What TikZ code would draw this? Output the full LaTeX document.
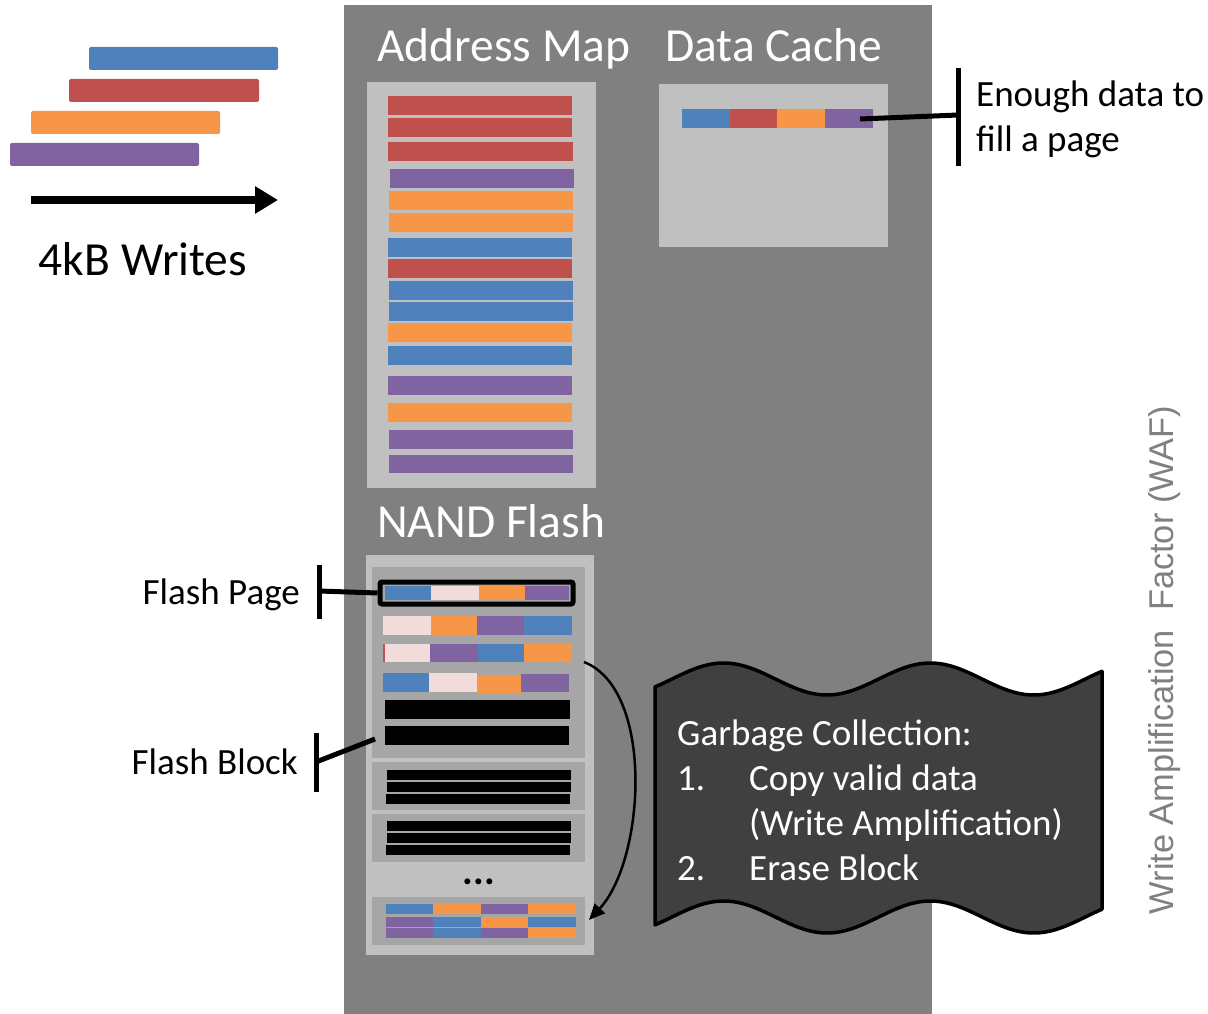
\documentclass[tikz,border=0pt]{standalone}
\usepackage{fontspec}
\setmainfont{Carlito}
\newfontfamily\arialfont{Liberation Sans}
\usetikzlibrary{arrows.meta}
\definecolor{wBlue}{HTML}{4F81BD}
\definecolor{wRed}{HTML}{C0504D}
\definecolor{wOrange}{HTML}{F79646}
\definecolor{wPurple}{HTML}{8064A2}
\definecolor{wPink}{HTML}{F2DCDB}
\definecolor{panelGray}{HTML}{808080}
\definecolor{boxGray}{HTML}{C0C0C0}
\definecolor{blockGray}{HTML}{A6A6A6}
\definecolor{waveGray}{HTML}{404040}
\begin{document}
\begin{tikzpicture}[x=1pt,y=-1pt,
  wbar/.style={rounded corners=2pt},
  leader/.style={line width=5pt},
  body/.style={inner sep=0pt, font=\fontsize{37}{44}\selectfont},
  heading/.style={inner sep=0pt, text=white, anchor=base west, font=\fontsize{47.5}{56}\selectfont},
  gctext/.style={inner sep=0pt, text=white, anchor=base west, font=\fontsize{37}{44}\selectfont}]

\useasboundingbox (0,0) rectangle (1208,1014);
\fill[white] (0,0) rectangle (1208,1014);

% incoming 4kB writes
\fill[wBlue,wbar]   (89,47)  rectangle (278,70);
\fill[wRed,wbar]    (69,79)  rectangle (259,102);
\fill[wOrange,wbar] (31,111) rectangle (220,134);
\fill[wPurple,wbar] (10,143) rectangle (199,166);
\coordinate (wfrom) at (31,200);
\coordinate (wto) at (278,200);
\draw[line width=8pt,-{Triangle[length=23pt,width=26pt]}] (wfrom) -- (wto);
\node[body, anchor=base, font=\fontsize{47.5}{56}\selectfont] (wlabel) at (143,275) {4kB Writes};

% SSD panel
\fill[panelGray] (344,5) rectangle (932,1014);
\node[heading] (amtitle) at (377,62) {Address Map};
\node[heading] (dctitle) at (665,62) {Data Cache};
\node[heading] (nftitle) at (377,537) {NAND Flash};

% address map entries
\fill[boxGray] (367,82) rectangle (596,488);
\foreach \c/\xa/\ya/\xb/\yb in {
  wRed/388/96/572/115, wRed/388/118/572/137, wRed/388/142/573/161,
  wPurple/390/169/574/188, wOrange/389/191/573/210, wOrange/389/213/573/232,
  wBlue/388/238/572/257, wRed/388/259/572/278, wBlue/389/281/573/300,
  wBlue/389/302/573/321, wOrange/388/323/572/342, wBlue/388/346/572/365,
  wPurple/388/376/572/395, wOrange/388/403/572/422, wPurple/389/430/573/449,
  wPurple/389/455/573/473}
  \fill[\c] (\xa,\ya) rectangle (\xb,\yb);

% data cache
\fill[boxGray] (659,84) rectangle (888,247);
\foreach \c/\xa/\xb in {wBlue/682/730, wRed/730/777, wOrange/777/825, wPurple/825/873}
  \fill[\c] (\xa,109) rectangle (\xb,128);
\coordinate (dcend) at (860,119);
\coordinate (dcmark) at (958,115);
\coordinate (dctop) at (958,68);
\coordinate (dcbot) at (958,166);
\draw[leader] (dcend) -- (dcmark);
\draw[leader] (dctop) -- (dcbot);
\node[body, anchor=base west] (fill1) at (976,107) {Enough data to};
\node[body, anchor=base west] (fill2) at (976,152) {fill a page};

% NAND flash
\fill[boxGray] (366,555) rectangle (594,955);
\fill[blockGray] (372,567) rectangle (585,758);
\fill[blockGray] (372,762) rectangle (585,810);
\fill[blockGray] (372,814) rectangle (585,862);
\fill[blockGray] (372,897) rectangle (585,945);

% block 1 pages
\foreach \c/\xa/\xb in {wBlue/385/431, wPink/431/479, wOrange/479/525, wPurple/525/569}
  \fill[\c] (\xa,586) rectangle (\xb,600);
\node[draw, line width=5pt, rounded corners=2pt, minimum width=193pt, minimum height=22pt, inner sep=0pt] (fpage) at (476.5,593) {};
\foreach \c/\xa/\xb in {wPink/383/431, wOrange/431/477, wPurple/477/524, wBlue/524/572}
  \fill[\c] (\xa,616) rectangle (\xb,635);
\fill[wRed] (383,644) rectangle (385,662);
\foreach \c/\xa/\xb in {wPink/385/430, wPurple/430/478, wBlue/478/524, wOrange/524/572}
  \fill[\c] (\xa,644) rectangle (\xb,662);
\foreach \c/\xa/\ya/\xb/\yb in {wBlue/383/673/429/692, wPink/429/673/477/692, wOrange/477/675/521/693, wPurple/521/674/569/692}
  \fill[\c] (\xa,\ya) rectangle (\xb,\yb);
\fill[black] (385,700) rectangle (570,719);
\fill[black] (385,726) rectangle (569,745);

% erased blocks
\foreach \ya/\yb in {770/780, 782/792, 821/831, 833/843}
  \fill[black] (387,\ya) rectangle (571,\yb);
\foreach \ya/\yb in {794/804, 845/855}
  \fill[black] (386,\ya) rectangle (570,\yb);
\node[inner sep=0pt, anchor=base, font=\bfseries\fontsize{40}{48}\selectfont] (more) at (479,884) {...};

% last block
\foreach \ya/\yb/\ca/\cb/\cc/\cd in {904/914/wBlue/wOrange/wPurple/wOrange,
    917/927/wPurple/wBlue/wOrange/wBlue, 928/938/wPurple/wBlue/wPurple/wOrange} {
  \fill[\ca] (386,\ya) rectangle (433,\yb);
  \fill[\cb] (433,\ya) rectangle (481,\yb);
  \fill[\cc] (481,\ya) rectangle (528,\yb);
  \fill[\cd] (528,\ya) rectangle (576,\yb);
}

% labels on the left
\node[body, anchor=base east] (fplabel) at (300,604) {Flash Page};
\node[body, anchor=base east] (fblabel) at (298,774) {Flash Block};
\coordinate (fpmark) at (319,591);
\draw[leader] (319,565) -- (319,619);
\draw[leader] (fpmark) -- (fpage.west);
\coordinate (fbmark) at (316,762);
\coordinate (fbend) at (375,739);
\draw[leader] (316,733) -- (316,792);
\draw[leader] (fbmark) -- (fbend);

% garbage collection move
\coordinate (gcfrom) at (584,662);
\coordinate (gcto) at (589,920);
\draw[line width=2.5pt, -{Triangle[length=16pt,width=14pt]}] (gcfrom) .. controls (655,690) and (645,860) .. (gcto);

% garbage collection note (double wave)
\draw[fill=waveGray, line width=3.5pt, line join=round]
  plot[domain=655:1102, samples=90, smooth] (\x, {679 - 16*sin(1.7417*(\x-672))})
  -- plot[domain=1102:655, samples=90, smooth] (\x, {917 - 16*sin(1.7417*(\x-672))})
  -- cycle;
\node[gctext] (gc0) at (677,745) {Garbage Collection:};
\node[gctext] (gc1n) at (677,790) {1.};
\node[gctext] (gc1) at (749,790) {Copy valid data};
\node[gctext] (gc1b) at (749,835) {(Write Amplification)};
\node[gctext] (gc2n) at (677,880) {2.};
\node[gctext] (gc2) at (749,880) {Erase Block};

% side axis label
\node[inner sep=0pt, rotate=90, anchor=base, text=panelGray, font=\arialfont\fontsize{34.4}{41}\selectfont] (waf) at (1173,660) {Write Amplification\ \ Factor (WAF)};
\end{tikzpicture}
\end{document}
